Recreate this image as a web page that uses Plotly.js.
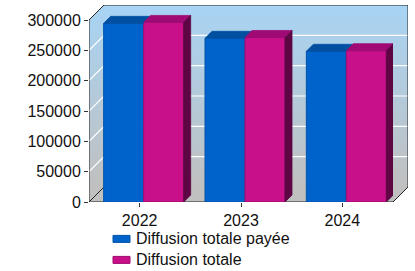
<!DOCTYPE html>
<html><head><meta charset="utf-8">
<script src="https://cdn.plot.ly/plotly-3.0.1.min.js"></script>
<style>html,body{margin:0;padding:0;background:#fff;} #chart{width:415px;height:271px;}</style>
</head><body><div id="chart"></div>
<script>
// ---- data ----
const categories = ['2022', '2023', '2024'];
const seriesNames = ['Diffusion totale payée', 'Diffusion totale'];
const paidCirculation = [294500, 269800, 248400];
const totalCirculation = [296000, 271200, 249400];
const yTickValues = [0, 50000, 100000, 150000, 200000, 250000, 300000];
const yTickLabels = ['0', '50000', '100000', '150000', '200000', '250000', '300000'];

// ---- geometry / style ----
const W = 415, H = 271;
const L = 89, R = 393, T = 20, B = 202;   // front plot frame (px)
const DEPTH = 15;                          // wall depth (px)
const BAR_D = 7;                           // bar depth (px)
const BAR_W = 40, BAR_SHIFT = 4;           // bar width and shift (px)
const EXTRA_TOP = 12;
const FONT = 'Liberation Sans, Arial, sans-serif';
const frontColors = ['#0063cc', '#c8108a'];
const edgeColors = ['#0052a8', '#a00c72'];
const topColors = ['#004fa0', '#a00a74'];
const sideColor = '#5e0544';
const legendTops = [221, 242];             // px, top of each legend box

const yMax = yTickValues[yTickValues.length - 1];
const nCat = categories.length;
const xu = (R - L) / nCat, yu = (B - T) / yMax;
const px2x = p => p / xu, px2y = p => p / yu;
const xs = categories.map((c, i) => i + 1);
const x0 = 0.5, x1 = nCat + 0.5;
const bx = px2x(DEPTH), by = px2y(DEPTH);
const dx = px2x(BAR_D), dy = px2y(BAR_D);
const bw = px2x(BAR_W), sh = px2x(BAR_SHIFT);
const series = [paidCirculation, totalCirculation];
const offsets = [sh - bw, sh];

const grad = {type: 'vertical', start: by, stop: yMax + by,
  colorscale: [[0, '#c0c0c0'], [1, '#a8d4f4']]};
const traces = [];
// floor
traces.push({type: 'scatter', mode: 'lines', xaxis: 'x', yaxis: 'y', hoverinfo: 'skip', showlegend: false,
  x: [x0, x1, x1 + bx, x0 + bx, x0], y: [0, 0, by, by, 0], fill: 'toself', fillcolor: '#c0c0c0', line: {width: 0}});
// left wall
traces.push({type: 'scatter', mode: 'lines', xaxis: 'x', yaxis: 'y', hoverinfo: 'skip', showlegend: false,
  x: [x0, x0 + bx, x0 + bx, x0, x0], y: [0, by, yMax + by, yMax, 0], fill: 'toself', fillgradient: grad, line: {width: 0}});
// back wall
traces.push({type: 'scatter', mode: 'lines', xaxis: 'x', yaxis: 'y', hoverinfo: 'skip', showlegend: false,
  x: [x0 + bx, x1 + bx, x1 + bx, x0 + bx, x0 + bx], y: [by, by, yMax + by, yMax + by, by], fill: 'toself', fillgradient: grad, line: {width: 0}});
// grid lines
const gx = [], gy = [];
yTickValues.forEach(v => { if (v > 0 && v < yMax) { gx.push(x0, x0 + bx, x1 + bx, null); gy.push(v, v + by, v + by, null); } });
traces.push({type: 'scatter', mode: 'lines', xaxis: 'x', yaxis: 'y', hoverinfo: 'skip', showlegend: false,
  x: gx, y: gy, line: {color: '#ffffff', width: 1.2}});
// frame outline
traces.push({type: 'scatter', mode: 'lines', xaxis: 'x', yaxis: 'y', hoverinfo: 'skip', showlegend: false,
  x: [x0, x0, x0 + bx, x1 + bx, x1 + bx, x1, x0, null, x0, x0 + bx],
  y: [0, yMax, yMax + by, yMax + by, by, 0, 0, null, 0, by],
  line: {color: '#222222', width: 1}});

// bars
series.forEach((vals, s) => {
  traces.push({type: 'bar', name: seriesNames[s], xaxis: 'x2', yaxis: 'y2', x: xs, y: vals,
    width: bw, offset: offsets[s], hoverinfo: 'skip', legend: s === 0 ? 'legend' : 'legend' + (s + 1),
    marker: {color: frontColors[s], line: {color: edgeColors[s], width: 1}}});
});
// 3D faces
series.forEach((vals, s) => {
  const tx = [], ty = [];
  vals.forEach((v, i) => {
    const xl = xs[i] + offsets[s], xr = xl + bw;
    tx.push(xl, xl + dx, xr + dx, xr, xl, null);
    ty.push(v, v + dy, v + dy, v, v, null);
  });
  traces.push({type: 'scatter', mode: 'lines', xaxis: 'x2', yaxis: 'y2', hoverinfo: 'skip', showlegend: false,
    x: tx, y: ty, fill: 'toself', fillcolor: topColors[s], line: {color: edgeColors[s], width: 0.8}});
});
const last = series.length - 1;
const sx = [], sy = [];
series[last].forEach((v, i) => {
  const xr = xs[i] + offsets[last] + bw;
  sx.push(xr, xr, xr + dx, xr + dx, xr, null);
  sy.push(0, v, v + dy, dy, 0, null);
});
traces.push({type: 'scatter', mode: 'lines', xaxis: 'x2', yaxis: 'y2', hoverinfo: 'skip', showlegend: false,
  x: sx, y: sy, fill: 'toself', fillcolor: sideColor, line: {color: sideColor, width: 0.8}});

const legendStyle = top => ({x: 96 / W, y: 1 - top / H, xanchor: 'left', yanchor: 'top', bgcolor: 'rgba(0,0,0,0)',
  font: {family: FONT, size: 16, color: '#111111'}, tracegroupgap: 0});

const layout = {
  width: W, height: H,
  margin: {l: 0, r: 0, t: 0, b: 0, autoexpand: false},
  paper_bgcolor: '#ffffff', plot_bgcolor: 'rgba(0,0,0,0)',
  barmode: 'overlay',
  font: {family: FONT, size: 16, color: '#111111'},
  xaxis: {domain: [L / W, (R + DEPTH) / W], range: [x0, x1 + bx], visible: false, fixedrange: true},
  yaxis: {domain: [(H - B) / H, (H - (T - DEPTH)) / H], range: [0, yMax + by], visible: false, fixedrange: true},
  xaxis2: {domain: [L / W, R / W], range: [x0, x1], anchor: 'y2', tickmode: 'array', tickvals: xs, ticktext: categories,
    ticks: 'outside', ticklen: 4, tickcolor: '#333333', showgrid: false, zeroline: false, showline: false,
    tickfont: {family: FONT, size: 16, color: '#111111'}},
  yaxis2: {domain: [(H - B) / H, (H - (T - EXTRA_TOP)) / H], range: [0, yMax + px2y(EXTRA_TOP)], anchor: 'x2',
    tickmode: 'array', tickvals: yTickValues, ticktext: yTickLabels,
    ticks: 'outside', ticklen: 4, tickcolor: '#333333', showgrid: false, zeroline: false, showline: false,
    tickfont: {family: FONT, size: 16, color: '#111111'}},
  showlegend: true,
  legend: legendStyle(legendTops[0]),
  legend2: legendStyle(legendTops[1])
};
Plotly.newPlot('chart', traces, layout, {staticPlot: true, displayModeBar: false}).then(gd => {
  // legend keys drawn as wide flat rectangles, as in the original chart
  gd.querySelectorAll('.legendpoints path').forEach(p => {
    p.setAttribute('d', 'M8.5,3.5H-8.5V-3.5H8.5Z');
    p.setAttribute('transform', 'translate(25.5,1)');
  });
});
</script>
</body></html>
